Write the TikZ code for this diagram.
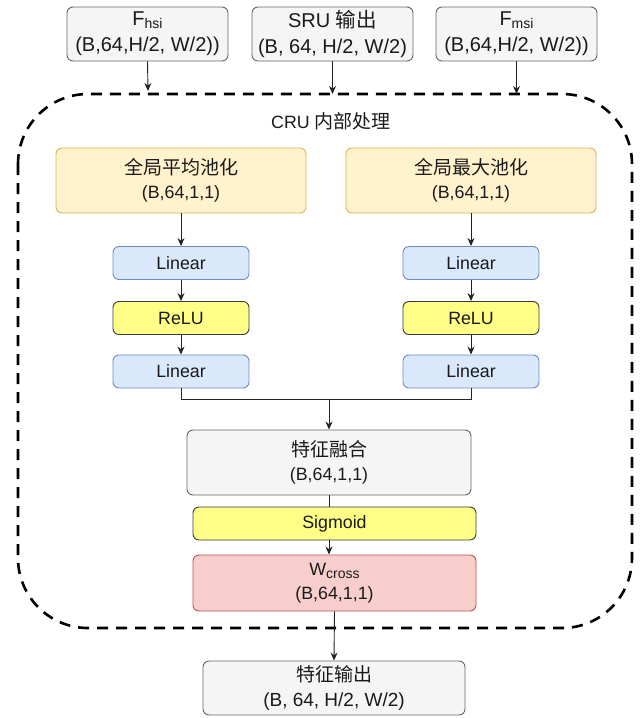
\documentclass[tikz,border=0pt]{standalone}
\usepackage{fontspec}
\setmainfont{Liberation Sans}
\newfontfamily\cjk{Noto Sans CJK SC}
\usetikzlibrary{arrows.meta}
\definecolor{grayF}{HTML}{F5F5F5}
\definecolor{grayD}{HTML}{666666}
\definecolor{yelF}{HTML}{FFF2CC}
\definecolor{yelD}{HTML}{D6B656}
\definecolor{bluF}{HTML}{DAE8FC}
\definecolor{bluD}{HTML}{6C8EBF}
\definecolor{actF}{HTML}{FFFF88}
\definecolor{actD}{HTML}{36393D}
\definecolor{redF}{HTML}{F8CECC}
\definecolor{redD}{HTML}{B85450}
\definecolor{txt}{HTML}{1A1A1A}
\definecolor{lineC}{HTML}{222222}
\newcommand\ftopsize{\fontsize{20}{26}\selectfont}
\newcommand\fmidsize{\fontsize{17.8}{24}\selectfont}
\newcommand\cjkmid[1]{{\cjk\fontsize{19}{24}\selectfont #1}}
\newcommand\cjktop[1]{{\cjk\fontsize{20.5}{26}\selectfont #1}}
\newcommand\subtxt[1]{\raisebox{-3pt}{\fontsize{14}{14}\selectfont #1}}
\begin{document}
\begin{tikzpicture}[x=1pt,y=-1pt,
  box/.style={draw, rounded corners=6pt, line width=0.9pt, inner sep=0pt, align=center, text=txt},
  graybox/.style={box, fill=grayF, draw=grayD},
  yelbox/.style={box, fill=yelF, draw=yelD, minimum width=250pt, minimum height=65pt, font=\fmidsize},
  linbox/.style={box, fill=bluF, draw=bluD, minimum width=136pt, minimum height=33pt, font=\fmidsize},
  actbox/.style={box, fill=actF, draw=actD, font=\fmidsize},
  redbox/.style={box, fill=redF, draw=redD, font=\fmidsize},
  topbox/.style={graybox, minimum width=161pt, minimum height=54pt, font=\ftopsize},
  arr/.style={draw=lineC, line width=0.9pt, -{Stealth[length=8pt,width=7pt]}},
  ln/.style={draw=lineC, line width=0.9pt},
  cont/.style={line width=2.6pt, dash pattern=on 11pt off 8pt, rounded corners=70pt}
]
\useasboundingbox (0,0) rectangle (640,718);

% top inputs
\node[topbox] (hsi) at (147.5,34) {F\subtxt{hsi}\\(B,64,H/2, W/2))};
\node[topbox] (sru) at (332.5,34) {SRU \cjktop{输出}\\(B, 64, H/2, W/2)};
\node[topbox] (msi) at (516.5,34) {F\subtxt{msi}\\(B,64,H/2, W/2))};

% container
\draw[cont] (18,94) rectangle (632,628);
\node[font=\fmidsize, text=txt] (title) at (331,121) {CRU \cjkmid{内部处理}};

\coordinate (inA) at (148,91);
\coordinate (inB) at (332.5,94);
\coordinate (inC) at (516.5,94);
\draw[arr] (hsi.south) -- (inA);
\draw[arr] (sru.south) -- (inB);
\draw[arr] (msi.south) -- (inC);

% left branch
\node[yelbox] (avg) at (181,180.5) {\cjkmid{全局平均池化}\\(B,64,1,1)};
\node[linbox] (linLa) at (181,263) {Linear};
\node[actbox, minimum width=136pt, minimum height=33pt] (reluL) at (181,318) {ReLU};
\node[linbox] (linLb) at (181,371.5) {Linear};

% right branch
\node[yelbox] (max) at (471,180.5) {\cjkmid{全局最大池化}\\(B,64,1,1)};
\node[linbox] (linRa) at (471,263) {Linear};
\node[actbox, minimum width=136pt, minimum height=33pt] (reluR) at (471,318) {ReLU};
\node[linbox] (linRb) at (471,371.5) {Linear};

\draw[arr] (avg) -- (linLa);
\draw[arr] (linLa) -- (reluL);
\draw[arr] (reluL) -- (linLb);
\draw[arr] (max) -- (linRa);
\draw[arr] (linRa) -- (reluR);
\draw[arr] (reluR) -- (linRb);

% fusion
\node[graybox, minimum width=284pt, minimum height=65pt, font=\fmidsize] (fus) at (329,462.5) {\cjkmid{特征融合}\\(B,64,1,1)};
\coordinate (j) at (329,399);
\draw[ln] (linLb.south) |- (j);
\draw[ln] (linRb.south) |- (j);
\draw[arr] (j) -- (fus.north);

\node[actbox, minimum width=283pt, minimum height=33pt] (sig) at (334.5,523.5) {Sigmoid};
\node[redbox, minimum width=283pt, minimum height=56pt] (wc) at (334.5,583) {W\subtxt{cross}\\(B,64,1,1)};
\draw[ln] (fus.south) -- (fus.south |- sig.north);
\draw[arr] (fus.south |- sig.south) -- (fus.south |- wc.north);

\node[graybox, minimum width=262pt, minimum height=54pt, font=\fontsize{19}{25}\selectfont] (out) at (334,688) {{\cjk\fontsize{19}{25}\selectfont 特征输出}\\(B, 64, H/2, W/2)};
\draw[arr] (wc.south) -- (out.north);
\end{tikzpicture}
\end{document}
